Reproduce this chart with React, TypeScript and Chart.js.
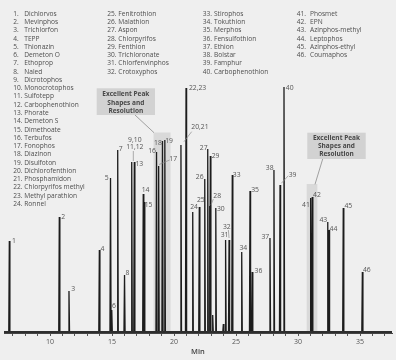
import React, { useEffect, useRef } from "react";
import { Chart, registerables } from "chart.js";

Chart.register(...registerables);

// ---------- data ----------
const peakLabels = [
  "1", "2", "3", "4", "5", "6", "7", "8", "9,10\n11,12", "13", "14", "15", "16", "17", "18", "19",
  "20,21", "22,23", "24", "25", "26", "27", "28", "29", "30", "31", "32", "33", "34", "35", "36",
  "37", "38", "39", "40", "41", "42", "43", "44", "45", "46", "", "",
];
const retentionTimes = [
  6.72, 10.75, 11.53, 13.98, 14.88, 14.98, 15.46, 16.01, 16.59, 16.8, 17.52, 17.6, 18.59, 18.76, 19.07, 19.26,
  20.56, 20.97, 21.51, 22.04, 22.48, 22.72, 22.88, 22.93, 23.37, 24.16, 24.44, 24.7, 25.46, 26.13, 26.31,
  27.74, 28.06, 28.55, 28.87, 31.02, 31.15, 32.4, 32.5, 33.65, 35.19, 23.12, 23.98,
];
const peakHeights = [
  91, 115, 41, 82, 154, 22, 182, 57, 170, 170, 138, 130, 180, 166, 191, 192,
  187, 244, 120, 125, 153, 183, 126, 176, 124, 92, 92, 157, 80, 141, 60,
  94, 162, 147, 245, 134, 135, 110, 102, 124, 60, 17, 8,
];
const compoundNames = [
  "Dichlorvos", "Mevinphos", "Trichlorfon", "TEPP", "Thionazin", "Demeton O", "Ethoprop", "Naled",
  "Dicrotophos", "Monocrotophos", "Sulfotepp", "Carbophenothion", "Phorate", "Demeton S", "Dimethoate",
  "Terbufos", "Fonophos", "Diazinon", "Disulfoton", "Dichlorofenthion", "Phosphamidon",
  "Chlorpyrifos methyl", "Methyl parathion", "Ronnel", "Fenitrothion", "Malathion", "Aspon",
  "Chlorpyrifos", "Fenthion", "Trichloronate", "Chlorfenvinphos", "Crotoxyphos", "Stirophos",
  "Tokuthion", "Merphos", "Fensulfothion", "Ethion", "Bolstar", "Famphur", "Carbophenothion",
  "Phosmet", "EPN", "Azinphos-methyl", "Leptophos", "Azinphos-ethyl", "Coumaphos",
];
const xTickLabels = [10, 15, 20, 25, 30, 35];
const calloutText = ["Excellent Peak", "Shapes and", "Resolution"];
// highlighted time windows [start, end, top response]
const highlightStart = [18.35, 30.7];
const highlightEnd = [19.72, 31.56];
const highlightTop = [199.5, 148];

// ---------- styles / layout ----------
const X_MIN = 6.29;
const X_MAX = 37.58;
const HALF_W = 0.045;
const BG = "#efefef";
const FONT = '"Open Sans", "Noto Sans", sans-serif';

type Off = { dx: number; dy: number; lead?: [number, number, number, number] };
const labelOffsets: Off[] = [
  { dx: 4.7, dy: 0 }, { dx: 4, dy: 0 }, { dx: 4.3, dy: -1.7 }, { dx: 3, dy: -1 },
  { dx: -3.8, dy: 0 }, { dx: 2.2, dy: -4 }, { dx: 3, dy: -0.7 }, { dx: 2.8, dy: -2.3 },
  { dx: 3.1, dy: -18.4, lead: [1.6, -11, 1.6, -1] }, { dx: 5, dy: 2.3 }, { dx: 2.3, dy: -4 },
  { dx: 4.3, dy: 2.6 }, { dx: -4.5, dy: -1 }, { dx: 14.5, dy: -7, lead: [11, -6, 0.5, -1.5] },
  { dx: -4.5, dy: 2.3 }, { dx: 4.2, dy: 0.7 }, { dx: 19, dy: -17.7, lead: [10.7, -13.3, 3, -3.3] },
  { dx: 11.5, dy: 0 }, { dx: 1.3, dy: -4.5 }, { dx: 1.5, dy: -7.4 }, { dx: -5, dy: -1.7 },
  { dx: -4, dy: -1 }, { dx: 7.5, dy: -10.3, lead: [3.6, -7, 1.3, -1] }, { dx: 5.2, dy: 0 },
  { dx: 5, dy: 0.7 }, { dx: -1, dy: -4.5 }, { dx: -2.3, dy: -13.3, lead: [-0.7, -10, 0, -2] },
  { dx: 4.4, dy: 0 }, { dx: 1.6, dy: -3.5 }, { dx: 5, dy: -1 }, { dx: 6.2, dy: -1 },
  { dx: -4.7, dy: -0.6 }, { dx: -4.3, dy: -1.7 }, { dx: 12.5, dy: -10, lead: [8.3, -9.3, 1.3, -1.7] },
  { dx: 5.7, dy: 1 }, { dx: -4.7, dy: 6.7 }, { dx: 4.7, dy: -1.7 }, { dx: -4.4, dy: -2.4 },
  { dx: 4.5, dy: -1 }, { dx: 5, dy: -1.6 }, { dx: 4.5, dy: -1.7 }, { dx: 0, dy: 0 }, { dx: 0, dy: 0 },
];

const legendCols = [
  { from: 0, to: 24, numX: 13.3, nameX: 24.3 },
  { from: 24, to: 32, numX: 107.3, nameX: 118.3 },
  { from: 32, to: 40, numX: 202.7, nameX: 214 },
  { from: 40, to: 46, numX: 296.7, nameX: 310 },
];
const LEGEND_Y0 = 14;
const LEGEND_DY = 8.26;

const callouts = [
  { x0: 96.7, x1: 155, y0: 88.3, y1: 115, lines: [94.5, 102.8, 110.9], lead: [135, 115, 154, 132.7] },
  { x0: 307.3, x1: 365.7, y0: 132.7, y1: 159, lines: [138, 146.3, 154.6], lead: [322.7, 159, 315, 184.3] },
];

const annotPlugin = {
  id: "annot",
  beforeDraw(chart: any) {
    const { ctx, width, height } = chart;
    ctx.save();
    ctx.fillStyle = BG;
    ctx.fillRect(0, 0, width, height);
    ctx.restore();
  },
  beforeDatasetsDraw(chart: any) {
    const { ctx, scales, chartArea } = chart;
    ctx.save();
    ctx.fillStyle = "#d9d9d9";
    highlightStart.forEach((s, i) => {
      const x0 = scales.x.getPixelForValue(s);
      const x1 = scales.x.getPixelForValue(highlightEnd[i]);
      const y0 = scales.y.getPixelForValue(highlightTop[i]);
      ctx.fillRect(x0, y0, x1 - x0, chartArea.bottom - y0);
    });
    ctx.restore();
  },
  afterDraw(chart: any) {
    const { ctx, scales } = chart;
    ctx.save();
    // legend list
    ctx.fillStyle = "#4e4e4e";
    ctx.font = `6.6px ${FONT}`;
    ctx.textBaseline = "middle";
    ctx.textAlign = "left";
    legendCols.forEach((c) => {
      for (let i = c.from; i < c.to; i++) {
        const y = LEGEND_Y0 + (i - c.from) * LEGEND_DY;
        ctx.fillText(`${i + 1}.`, c.numX, y);
        ctx.fillText(compoundNames[i], c.nameX, y);
      }
    });
    // callouts
    callouts.forEach((c) => {
      ctx.strokeStyle = "#8c8c8c";
      ctx.lineWidth = 0.8;
      ctx.beginPath();
      ctx.moveTo(c.lead[0], c.lead[1]);
      ctx.lineTo(c.lead[2], c.lead[3]);
      ctx.stroke();
      ctx.fillStyle = "#d2d2d2";
      ctx.fillRect(c.x0, c.y0, c.x1 - c.x0, c.y1 - c.y0);
      ctx.fillStyle = "#474747";
      ctx.font = `bold 6.5px ${FONT}`;
      ctx.textAlign = "center";
      calloutText.forEach((t, k) => ctx.fillText(t, (c.x0 + c.x1) / 2, c.lines[k]));
    });
    // peak labels
    ctx.font = `6.8px ${FONT}`;
    ctx.textAlign = "center";
    peakLabels.forEach((lab, i) => {
      if (!lab) return;
      const ax = scales.x.getPixelForValue(retentionTimes[i]);
      const ay = scales.y.getPixelForValue(peakHeights[i]);
      const o = labelOffsets[i];
      if (o.lead) {
        ctx.strokeStyle = "#8c8c8c";
        ctx.lineWidth = 0.7;
        ctx.beginPath();
        ctx.moveTo(ax + o.lead[0], ay + o.lead[1]);
        ctx.lineTo(ax + o.lead[2], ay + o.lead[3]);
        ctx.stroke();
      }
      ctx.fillStyle = "#555";
      const lines = lab.split("\n");
      lines.forEach((ln, k) => {
        const y = ay + o.dy + (k - (lines.length - 1) / 2) * 6.7;
        ctx.fillText(ln, ax + o.dx, y);
      });
    });
    ctx.restore();
  },
};

export default function App() {
  const ref = useRef<HTMLCanvasElement>(null);
  useEffect(() => {
    document.body.style.margin = "0";
    document.body.style.background = BG;
    const canvas = ref.current!;
    const trace: any[] = [];
    retentionTimes.forEach((t, i) => {
      trace.push(
        { x: t - HALF_W, y: 0 },
        { x: t, y: peakHeights[i] },
        { x: t + HALF_W, y: 0 },
        { x: t + HALF_W, y: null }
      );
    });
    const chart = new Chart(canvas, {
      type: "line",
      data: {
        datasets: [
          {
            label: "baseline",
            data: [{ x: X_MIN, y: 0 }, { x: X_MAX, y: 0 }],
            borderColor: "#2e2e2e",
            borderWidth: 2.2,
            pointRadius: 0,
          },
          {
            label: "trace",
            data: trace,
            borderColor: "#1c1c1c",
            borderWidth: 1.3,
            pointRadius: 0,
            spanGaps: false,
            tension: 0,
          },
        ],
      },
      options: {
        animation: false,
        responsive: false,
        layout: { padding: { left: 4, right: 4, top: 10, bottom: 0 } },
        plugins: { legend: { display: false }, tooltip: { enabled: false } },
        scales: {
          x: {
            type: "linear",
            min: X_MIN,
            max: X_MAX,
            ticks: {
              stepSize: 1,
              autoSkip: false,
              maxRotation: 0,
              includeBounds: false,
              padding: 2,
              color: "#555",
              font: { family: FONT, size: 7 },
              callback: (v: any) => (xTickLabels.includes(Number(v)) ? String(v) : ""),
            },
            grid: { drawOnChartArea: false, drawTicks: true, tickLength: 3, color: "#555" },
            border: { display: true, color: "#444", width: 1 },
            title: {
              display: true,
              text: "Min",
              color: "#444",
              font: { family: FONT, size: 7.5, weight: "600" },
              padding: { top: 0, bottom: 3.5 },
            },
            afterFit: (s: any) => {
              s.height = 27;
            },
          },
          y: { display: false, min: -1, max: 322 },
        },
      },
      plugins: [annotPlugin],
    } as any);
    return () => chart.destroy();
  }, []);
  return <canvas ref={ref} width={396} height={360} style={{ display: "block" }} />;
}
